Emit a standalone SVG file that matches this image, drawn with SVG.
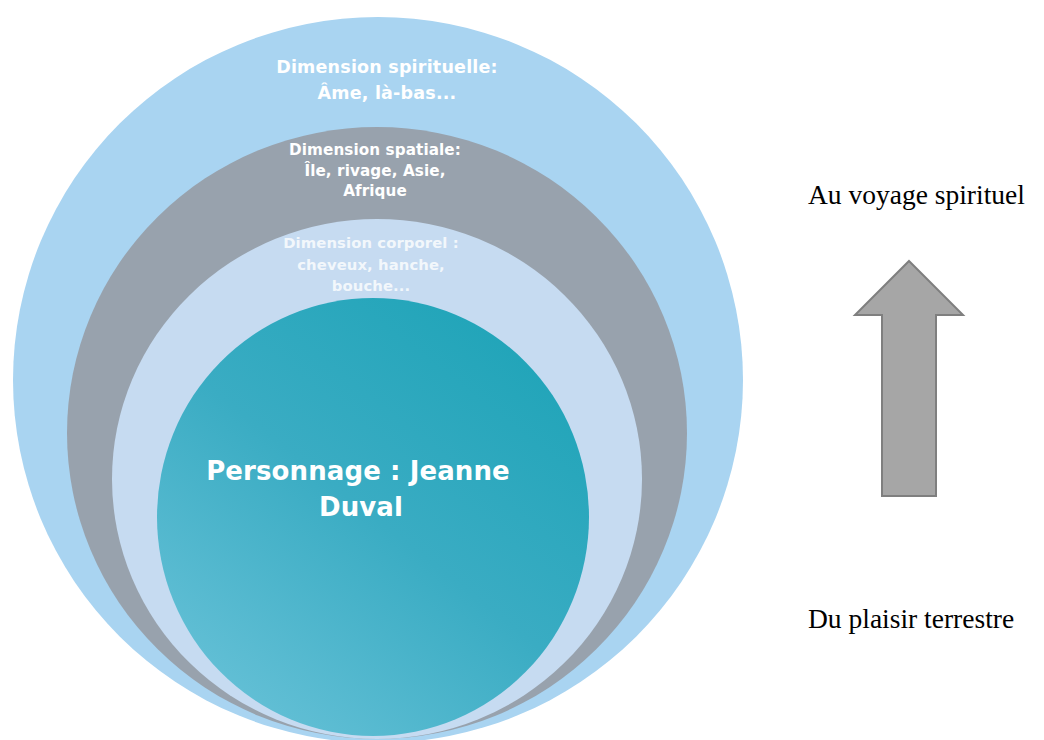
<svg xmlns="http://www.w3.org/2000/svg" width="1044" height="740" viewBox="0 0 1044 740">
<style>
.lbl{font-family:"DejaVu Sans","Liberation Sans",sans-serif;font-weight:bold;fill:#ffffff;text-anchor:middle}
.side{font-family:"Liberation Serif","Times New Roman",serif;font-size:27.5px;fill:#000000}
</style>
<defs>
<linearGradient id="teal" x1="0.15" y1="0.95" x2="0.85" y2="0.05">
<stop offset="0" stop-color="#66c1d7"/>
<stop offset="0.5" stop-color="#3aacc3"/>
<stop offset="1" stop-color="#1fa4b8"/>
</linearGradient>
</defs>
<rect width="1044" height="740" fill="#ffffff"/>
<g id="spirituelle">
<ellipse cx="378" cy="380" rx="365" ry="363" fill="#a9d4f1"/>
<text class="lbl" font-size="17.5" letter-spacing="0.2" x="387" y="73">Dimension spirituelle:</text>
<text class="lbl" font-size="17.5" letter-spacing="0.2" x="387" y="99">Âme, là-bas...</text>
</g>
<g id="spatiale">
<ellipse cx="377" cy="433" rx="310" ry="306" fill="#98a2ad"/>
<text class="lbl" font-size="15.2" letter-spacing="0.1" x="375" y="155">Dimension spatiale:</text>
<text class="lbl" font-size="15.2" letter-spacing="0.1" x="375" y="176">Île, rivage, Asie,</text>
<text class="lbl" font-size="15.2" letter-spacing="0.1" x="375" y="196">Afrique</text>
</g>
<g id="corporel">
<ellipse cx="377" cy="479" rx="265" ry="260" fill="#c6dbf1"/>
<text class="lbl" font-size="14.8" letter-spacing="0.1" x="371" y="248" fill-opacity="0.8">Dimension corporel :</text>
<text class="lbl" font-size="14.8" letter-spacing="0.1" x="371" y="270" fill-opacity="0.8">cheveux, hanche,</text>
<text class="lbl" font-size="14.8" letter-spacing="0.1" x="371" y="291" fill-opacity="0.8">bouche...</text>
</g>
<g id="personnage">
<ellipse cx="373" cy="517" rx="216" ry="219" fill="url(#teal)"/>
<text class="lbl" font-size="26" letter-spacing="0.1" x="358" y="480">Personnage : Jeanne</text>
<text class="lbl" font-size="26" letter-spacing="0.1" x="361" y="516">Duval</text>
</g>
<g id="connectors">
<polygon points="909,261 963,315 936,315 936,496 882,496 882,315 855,315" fill="#a6a6a6" stroke="#7f7f7f" stroke-width="2"/>
</g>
<g id="labels">
<text class="side" x="808" y="204">Au voyage spirituel</text>
<text class="side" x="808" y="628">Du plaisir terrestre</text>
</g>
</svg>
